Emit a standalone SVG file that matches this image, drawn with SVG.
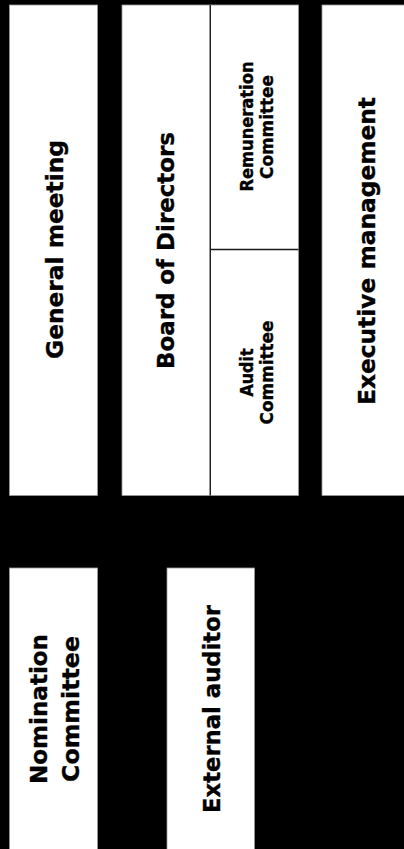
<svg xmlns="http://www.w3.org/2000/svg" width="404" height="849" viewBox="0 0 404 849">
<style>
.box{fill:#fff;stroke:#9a9a9a;stroke-width:0.8}
.t{font-family:"DejaVu Sans","Liberation Sans",sans-serif;font-weight:700;fill:#000;stroke:#000;stroke-width:0.35;text-anchor:middle}
.big{font-size:23px}
.small{font-size:17px}
.div{stroke:#1a1a1a;stroke-width:1.3;fill:none}
</style>
<rect x="0" y="0" width="404" height="849" fill="#000"/>
<g id="general-meeting">
<rect class="box" x="9.5" y="5" width="88" height="490.5"/>
<text class="t big" transform="translate(63,249.5) rotate(-90)" textLength="219" lengthAdjust="spacingAndGlyphs">General meeting</text>
</g>
<g id="board-of-directors">
<rect class="box" x="122" y="5" width="88" height="490.5"/>
<text class="t big" transform="translate(174,250.5) rotate(-90)" textLength="237" lengthAdjust="spacingAndGlyphs">Board of Directors</text>
</g>
<g id="remuneration-committee">
<rect class="box" x="210.5" y="5" width="88" height="244.5"/>
<text class="t small" transform="translate(252.5,126.5) rotate(-90)" textLength="130" lengthAdjust="spacingAndGlyphs">Remuneration</text>
<text class="t small" transform="translate(272.5,127) rotate(-90)" textLength="104" lengthAdjust="spacingAndGlyphs">Committee</text>
</g>
<g id="audit-committee">
<rect class="box" x="210.5" y="249.5" width="88" height="246"/>
<text class="t small" transform="translate(252.5,372.5) rotate(-90)" textLength="48" lengthAdjust="spacingAndGlyphs">Audit</text>
<text class="t small" transform="translate(272.5,372.5) rotate(-90)" textLength="104" lengthAdjust="spacingAndGlyphs">Committee</text>
</g>
<g id="executive-management">
<rect class="box" x="322" y="5" width="90" height="490.5"/>
<text class="t big" transform="translate(375,251) rotate(-90)" textLength="308" lengthAdjust="spacingAndGlyphs">Executive management</text>
</g>
<g id="nomination-committee">
<rect class="box" x="9.5" y="568" width="88" height="300"/>
<text class="t big" transform="translate(47,709) rotate(-90)" textLength="150" lengthAdjust="spacingAndGlyphs">Nomination</text>
<text class="t big" transform="translate(79,709) rotate(-90)" textLength="146" lengthAdjust="spacingAndGlyphs">Committee</text>
</g>
<g id="external-auditor">
<rect class="box" x="167" y="568" width="87.5" height="300"/>
<text class="t big" transform="translate(220,709) rotate(-90)" textLength="208" lengthAdjust="spacingAndGlyphs">External auditor</text>
</g>
<g id="connectors">
<line class="div" x1="210.3" y1="5" x2="210.3" y2="495.5"/>
<line class="div" x1="210.5" y1="249.5" x2="298.5" y2="249.5"/>
</g>
</svg>
